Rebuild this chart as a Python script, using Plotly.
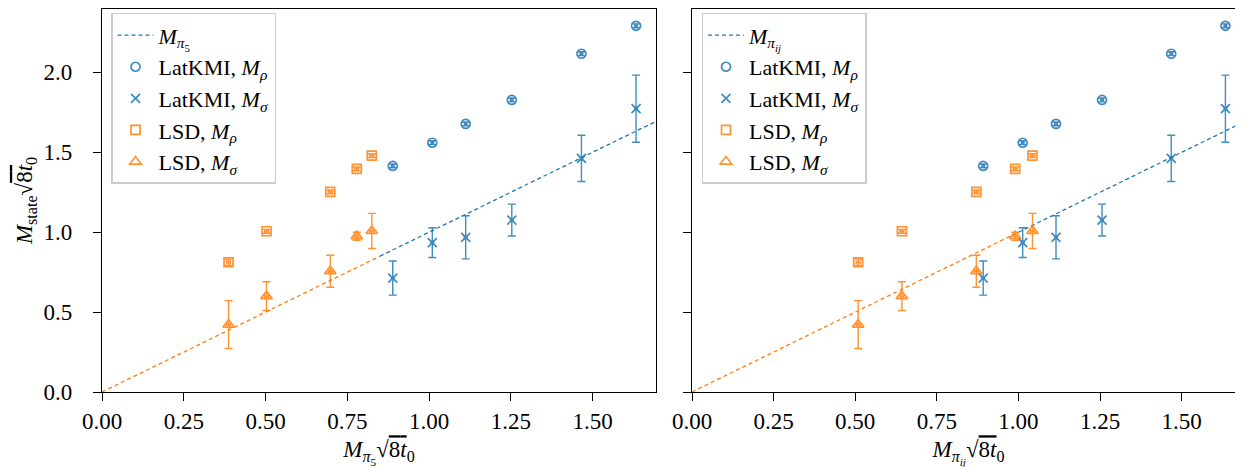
import plotly.graph_objects as go

# ---------------- data ----------------
# LatKMI (x in units of sqrt(8 t0))
lat_x_pi5 = [0.889, 1.010, 1.112, 1.253, 1.466, 1.633]
lat_x_piij = [0.892, 1.013, 1.115, 1.256, 1.468, 1.634]
lat_xerr = [0.004, 0.004, 0.004, 0.004, 0.004, 0.004]
lat_rho = [1.415, 1.560, 1.678, 1.828, 2.117, 2.292]
lat_rho_err = [0.012, 0.012, 0.012, 0.012, 0.012, 0.012]
lat_sigma = [0.713, 0.935, 0.968, 1.076, 1.462, 1.773]
lat_sigma_err = [0.107, 0.093, 0.135, 0.100, 0.145, 0.210]

# LSD
lsd_x_pi5 = [0.387, 0.503, 0.698, 0.779, 0.825]
lsd_x_piij = [0.509, 0.643, 0.871, 0.990, 1.043]
lsd_xerr = [0.006, 0.006, 0.006, 0.006, 0.006]
lsd_rho = [0.812, 1.006, 1.252, 1.396, 1.479]
lsd_rho_err = [0.020, 0.012, 0.012, 0.012, 0.012]
lsd_sigma = [0.422, 0.600, 0.756, 0.975, 1.008]
lsd_sigma_err = [0.150, 0.090, 0.100, 0.025, 0.110]

# reference line M_state = M_pi (orange part, blue part)
line_left_orange = [0.0, 0.85]
line_left_blue = [0.85, 1.75]
line_right_orange = [0.0, 1.0]
line_right_blue = [1.0, 1.75]

x_ticks = [0.0, 0.25, 0.5, 0.75, 1.0, 1.25, 1.5]
y_ticks = [0.0, 0.5, 1.0, 1.5, 2.0]

C0 = "#1f77b4"
C1 = "#ff7f0e"
FONT = "Liberation Serif"

fig = go.Figure()


def add_panel(xa, ya, legend, lat_x, lsd_x, orange_seg, blue_seg, pi_label):
    fig.add_trace(go.Scatter(
        x=blue_seg, y=blue_seg, mode="lines", xaxis=xa, yaxis=ya, legend=legend,
        line=dict(color=C0, width=1.3, dash="4px,3px"), name=pi_label))
    fig.add_trace(go.Scatter(
        x=orange_seg, y=orange_seg, mode="lines", xaxis=xa, yaxis=ya, legend=legend,
        line=dict(color=C1, width=1.3, dash="4px,3px"), showlegend=False))
    specs = [
        (lat_x, lat_xerr, lat_rho, lat_rho_err, C0, "circle-open", 9, "LatKMI, <i>M<sub>ρ</sub></i>"),
        (lat_x, lat_xerr, lat_sigma, lat_sigma_err, C0, "x-thin-open", 9, "LatKMI, <i>M<sub>σ</sub></i>"),
        (lsd_x, lsd_xerr, lsd_rho, lsd_rho_err, C1, "square-open", 9, "LSD, <i>M<sub>ρ</sub></i>"),
        (lsd_x, lsd_xerr, lsd_sigma, lsd_sigma_err, C1, "triangle-up-open", 10, "LSD, <i>M<sub>σ</sub></i>"),
    ]
    for xs, xe, ys, ye, col, sym, sz, name in specs:
        fig.add_trace(go.Scatter(
            x=xs, y=ys, mode="markers", xaxis=xa, yaxis=ya, legend=legend, name=name,
            opacity=0.85,
            marker=dict(symbol=sym, size=sz, color=col, line=dict(width=1.7, color=col)),
            error_y=dict(type="data", array=ye, color=col, thickness=1.4, width=4),
            error_x=dict(type="data", array=xe, color=col, thickness=1.4, width=2),
        ))


add_panel("x", "y", "legend", lat_x_pi5, lsd_x_pi5, line_left_orange, line_left_blue,
          "<i>M</i><sub><i>π</i><sub>5</sub></sub>")
add_panel("x2", "y2", "legend2", lat_x_piij, lsd_x_piij, line_right_orange, line_right_blue,
          "<i>M</i><sub><i>π</i><sub><i>ij</i></sub></sub>")

sqrt_part = "√<span style='text-decoration:overline'>8<i>t</i></span><sub>0</sub>"

axis_common = dict(
    showline=True, linecolor="black", linewidth=1.2, mirror=True,
    ticks="outside", ticklen=8, tickwidth=1.3, tickcolor="black",
    showgrid=False, zeroline=False,
    tickfont=dict(family=FONT, size=23, color="black"),
)

legend_common = dict(
    bgcolor="rgba(255,255,255,0.8)", bordercolor="#cccccc", borderwidth=1.5,
    font=dict(family=FONT, size=22, color="black"),
    xanchor="left", yanchor="top", tracegroupgap=0, itemwidth=36,
)

pad = "\u00a0\u00a0\u2009"

fig.update_layout(
    width=1243, height=467,
    margin=dict(l=94, r=6, t=1, b=83),
    paper_bgcolor="white", plot_bgcolor="white",
    font=dict(family=FONT, color="black"),
    xaxis=dict(domain=[0, 0.4847], range=[0, 1.694], tickvals=x_ticks,
               ticktext=[f"{v:.2f}" for v in x_ticks],
               title=dict(text="<i>M</i><sub><i>π</i><sub>5</sub></sub>" + sqrt_part,
                          font=dict(family=FONT, size=23), standoff=8),
               **axis_common),
    xaxis2=dict(domain=[0.5162, 1], range=[0, 1.694], tickvals=x_ticks, anchor="y2",
                ticktext=[f"{v:.2f}" for v in x_ticks],
                title=dict(text="<i>M</i><sub><i>π</i><sub><i>ij</i></sub></sub>" + sqrt_part,
                           font=dict(family=FONT, size=23), standoff=8),
                **axis_common),
    yaxis=dict(range=[0, 2.397], tickvals=y_ticks, ticktext=[f"{v:.1f}{pad}" for v in y_ticks],
               title=dict(text="<i>M</i><sub>state</sub>" + sqrt_part,
                          font=dict(family=FONT, size=23), standoff=4),
               **axis_common),
    yaxis2=dict(range=[0, 2.397], tickvals=y_ticks, anchor="x2", matches="y",
                showticklabels=False, **axis_common),
    legend=dict(x=0.0079, y=0.99, **legend_common),
    legend2=dict(x=0.5245, y=0.99, **legend_common),
)

fig.write_html("out.html")
